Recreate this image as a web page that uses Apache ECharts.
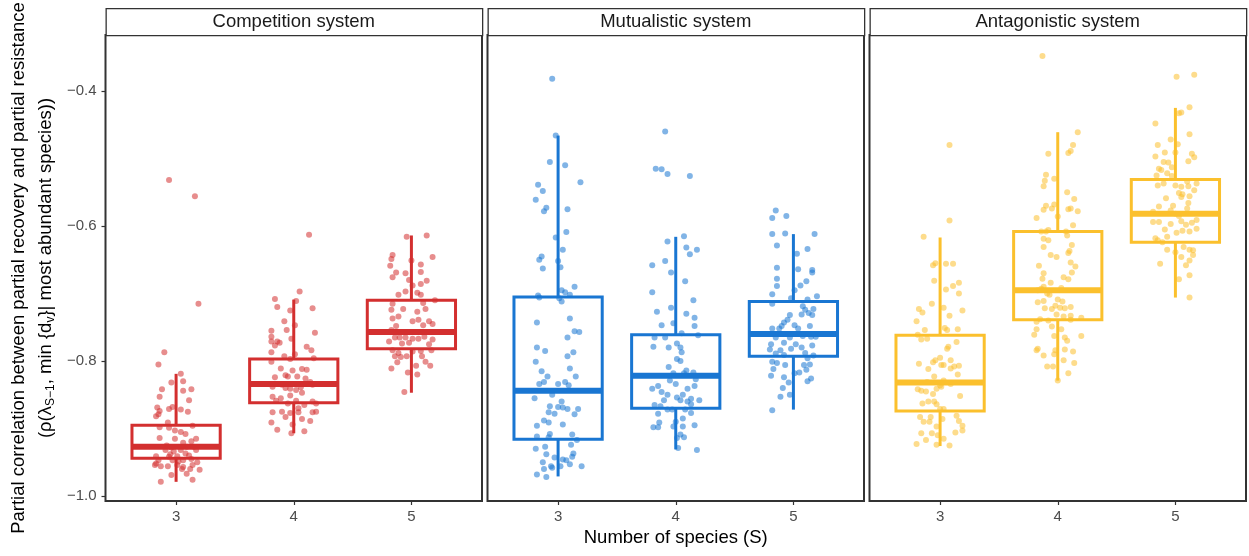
<!DOCTYPE html>
<html><head><meta charset="utf-8">
<script src="https://cdn.jsdelivr.net/npm/echarts@6/dist/echarts.min.js"></script>
<style>html,body{margin:0;padding:0;background:#fff}#c{width:1249px;height:556px}</style>
</head><body><div id="c"></div><script>
// ---------- data ----------
const systems = ['Competition system', 'Mutualistic system', 'Antagonistic system'];
const speciesCounts = [3, 4, 5];
const yTickValues = [-1.0, -0.8, -0.6, -0.4];
const xTitle = 'Number of species (S)';
const yTitle1 = 'Partial correlation between partial recovery and partial resistance';

// box statistics per S: [lower whisker, Q1, median, Q3, upper whisker]
const compBox = [[-0.979, -0.944, -0.927, -0.895, -0.819], [-0.907, -0.862, -0.834, -0.797, -0.709], [-0.847, -0.782, -0.757, -0.710, -0.614]];
const mutBox  = [[-0.971, -0.916, -0.844, -0.705, -0.466], [-0.931, -0.870, -0.822, -0.761, -0.616], [-0.872, -0.793, -0.760, -0.712, -0.612]];
const antBox  = [[-0.926, -0.874, -0.832, -0.762, -0.617], [-0.829, -0.739, -0.695, -0.608, -0.461], [-0.706, -0.624, -0.582, -0.531, -0.425]];

// jittered observations: [horizontal jitter (species units), value]
const compS3 = [[0.04,-0.819],[0.06,-0.830],[-0.04,-0.832],[-0.12,-0.842],[0.06,-0.844],[0.13,-0.842],[-0.14,-0.853],[0.11,-0.858],[-0.16,-0.869],[-0.14,-0.874],[-0.17,-0.882],[-0.06,-0.871],[-0.03,-0.868],[0.04,-0.872],[0.10,-0.875],[-0.15,-0.879],[-0.07,-0.891],[-0.14,-0.898],[-0.06,-0.899],[0.14,-0.896],[-0.01,-0.903],[0.04,-0.905],[0.08,-0.908],[-0.14,-0.914],[-0.01,-0.915],[0.17,-0.915],[0.13,-0.919],[0.06,-0.921],[-0.08,-0.925],[-0.04,-0.928],[0.09,-0.927],[0.15,-0.927],[-0.17,-0.941],[-0.05,-0.938],[0.01,-0.941],[0.11,-0.940],[0.17,-0.932],[-0.15,-0.947],[-0.03,-0.947],[0.06,-0.947],[0.13,-0.945],[-0.18,-0.954],[-0.13,-0.956],[-0.07,-0.956],[0.01,-0.954],[0.06,-0.957],[0.14,-0.954],[0.18,-0.950],[0.05,-0.960],[0.12,-0.960],[0.20,-0.961],[-0.04,-0.969],[0.09,-0.967],[-0.13,-0.979],[0.14,-0.976],[-0.02,-0.934],[-0.09,-0.932],[0.04,-0.932],[0.08,-0.937],[-0.06,-0.942],[-0.17,-0.952],[0.02,-0.949],[-0.06,-0.532],[0.16,-0.556],[0.19,-0.715],[-0.10,-0.787],[-0.15,-0.805]];
const compS4 = [[0.13,-0.613],[0.05,-0.697],[0.02,-0.711],[-0.16,-0.708],[-0.14,-0.720],[0.16,-0.722],[-0.03,-0.725],[-0.08,-0.741],[0.01,-0.747],[-0.06,-0.754],[0.18,-0.758],[-0.19,-0.755],[-0.19,-0.764],[-0.02,-0.767],[-0.19,-0.771],[-0.14,-0.771],[-0.12,-0.773],[-0.16,-0.777],[0.11,-0.779],[0.15,-0.784],[-0.19,-0.787],[-0.08,-0.793],[0.01,-0.790],[0.17,-0.796],[-0.03,-0.797],[-0.19,-0.801],[-0.11,-0.811],[-0.01,-0.814],[0.07,-0.812],[0.11,-0.813],[-0.07,-0.821],[-0.05,-0.823],[0.03,-0.823],[-0.16,-0.824],[0.10,-0.826],[0.14,-0.831],[-0.10,-0.835],[-0.18,-0.838],[-0.03,-0.841],[0.06,-0.839],[0.16,-0.835],[-0.07,-0.840],[0.02,-0.843],[-0.18,-0.853],[-0.03,-0.851],[0.07,-0.847],[-0.11,-0.855],[0.16,-0.860],[-0.15,-0.859],[-0.05,-0.863],[0.02,-0.859],[0.09,-0.865],[0.19,-0.863],[-0.10,-0.875],[-0.18,-0.876],[-0.03,-0.877],[0.04,-0.876],[0.16,-0.876],[0.19,-0.875],[-0.07,-0.883],[0.07,-0.886],[0.14,-0.889],[-0.19,-0.891],[-0.01,-0.894],[-0.14,-0.902],[0.09,-0.904],[-0.02,-0.907],[0.04,-0.870]];
const compS5 = [[-0.04,-0.616],[0.13,-0.614],[-0.16,-0.643],[-0.17,-0.649],[0.18,-0.646],[0.00,-0.651],[-0.18,-0.659],[0.08,-0.657],[-0.13,-0.669],[-0.05,-0.670],[0.08,-0.668],[-0.16,-0.676],[-0.02,-0.680],[0.13,-0.681],[0.08,-0.686],[0.01,-0.688],[-0.05,-0.697],[0.05,-0.699],[-0.11,-0.702],[0.08,-0.702],[0.20,-0.710],[-0.16,-0.715],[0.10,-0.714],[-0.17,-0.724],[-0.07,-0.723],[0.12,-0.723],[0.05,-0.727],[-0.16,-0.737],[-0.11,-0.734],[0.01,-0.741],[0.06,-0.739],[0.15,-0.741],[0.18,-0.745],[0.10,-0.747],[-0.13,-0.748],[-0.17,-0.754],[-0.14,-0.765],[-0.10,-0.765],[-0.05,-0.765],[0.01,-0.767],[0.06,-0.767],[0.11,-0.764],[0.18,-0.768],[-0.19,-0.771],[-0.08,-0.774],[-0.02,-0.773],[0.15,-0.775],[-0.16,-0.784],[-0.11,-0.788],[0.01,-0.786],[0.08,-0.785],[0.17,-0.784],[-0.14,-0.793],[-0.09,-0.794],[-0.04,-0.793],[0.09,-0.793],[0.12,-0.801],[-0.12,-0.802],[0.04,-0.807],[0.16,-0.807],[-0.17,-0.811],[-0.03,-0.817],[0.05,-0.820],[-0.06,-0.846]];
const mutS3 = [[-0.05,-0.382],[-0.02,-0.466],[-0.07,-0.505],[0.06,-0.510],[-0.17,-0.539],[-0.13,-0.548],[0.19,-0.535],[-0.19,-0.561],[-0.10,-0.573],[-0.12,-0.578],[0.08,-0.575],[0.07,-0.609],[-0.02,-0.617],[0.04,-0.635],[-0.14,-0.645],[-0.16,-0.650],[0.00,-0.652],[0.02,-0.661],[-0.13,-0.663],[0.14,-0.690],[0.03,-0.695],[0.06,-0.698],[0.10,-0.702],[-0.17,-0.703],[-0.16,-0.706],[0.01,-0.707],[0.03,-0.712],[0.10,-0.737],[-0.18,-0.743],[0.14,-0.756],[0.18,-0.757],[0.08,-0.765],[-0.18,-0.780],[-0.11,-0.785],[0.13,-0.787],[0.08,-0.793],[-0.19,-0.801],[0.10,-0.811],[-0.14,-0.815],[0.15,-0.823],[-0.09,-0.823],[-0.16,-0.834],[-0.12,-0.831],[0.00,-0.834],[0.06,-0.831],[0.09,-0.836],[-0.05,-0.850],[-0.20,-0.855],[0.03,-0.860],[-0.07,-0.867],[0.00,-0.868],[0.04,-0.869],[0.08,-0.871],[0.17,-0.871],[-0.08,-0.876],[-0.03,-0.878],[0.14,-0.879],[-0.12,-0.888],[-0.08,-0.891],[0.04,-0.894],[-0.18,-0.896],[-0.07,-0.908],[-0.18,-0.912],[0.12,-0.909],[-0.08,-0.913],[0.16,-0.917],[0.11,-0.924],[-0.19,-0.930],[-0.11,-0.927],[0.13,-0.937],[-0.10,-0.938],[-0.03,-0.943],[0.04,-0.946],[0.07,-0.947],[0.12,-0.942],[-0.13,-0.950],[-0.06,-0.956],[0.02,-0.956],[0.10,-0.953],[0.20,-0.956],[-0.12,-0.960],[-0.05,-0.958],[-0.18,-0.968],[-0.10,-0.972]];
const mutS4 = [[-0.09,-0.460],[-0.17,-0.515],[-0.12,-0.516],[-0.07,-0.523],[0.12,-0.526],[0.07,-0.615],[-0.07,-0.623],[0.09,-0.632],[0.18,-0.635],[0.12,-0.642],[-0.20,-0.658],[-0.09,-0.652],[-0.04,-0.669],[0.08,-0.682],[-0.20,-0.698],[0.15,-0.710],[-0.16,-0.727],[-0.04,-0.721],[0.09,-0.730],[0.16,-0.736],[-0.12,-0.747],[-0.02,-0.744],[0.16,-0.748],[0.05,-0.759],[-0.18,-0.765],[-0.09,-0.765],[0.19,-0.762],[-0.19,-0.779],[-0.06,-0.780],[0.01,-0.774],[0.04,-0.780],[0.05,-0.787],[0.01,-0.797],[0.04,-0.800],[-0.06,-0.809],[-0.02,-0.818],[0.09,-0.814],[0.15,-0.817],[0.07,-0.818],[0.17,-0.827],[-0.05,-0.829],[0.00,-0.834],[0.16,-0.837],[-0.20,-0.841],[-0.15,-0.837],[-0.12,-0.846],[0.10,-0.841],[-0.07,-0.850],[0.06,-0.850],[-0.10,-0.858],[0.01,-0.854],[0.13,-0.856],[0.04,-0.858],[0.20,-0.858],[0.10,-0.860],[-0.18,-0.865],[-0.13,-0.867],[0.13,-0.864],[-0.07,-0.872],[0.08,-0.872],[0.13,-0.877],[-0.15,-0.878],[-0.03,-0.872],[0.06,-0.885],[0.00,-0.890],[-0.14,-0.891],[-0.02,-0.897],[-0.19,-0.898],[0.06,-0.897],[0.16,-0.895],[-0.15,-0.898],[0.04,-0.909],[0.07,-0.913],[0.01,-0.914],[0.02,-0.929],[0.18,-0.932]];
const mutS5 = [[-0.15,-0.577],[-0.18,-0.588],[-0.06,-0.585],[-0.18,-0.612],[-0.07,-0.611],[0.18,-0.612],[-0.14,-0.629],[0.03,-0.641],[0.12,-0.634],[-0.14,-0.662],[0.04,-0.664],[0.16,-0.665],[0.16,-0.669],[-0.14,-0.678],[0.11,-0.682],[-0.14,-0.689],[0.06,-0.688],[-0.18,-0.701],[-0.02,-0.707],[0.01,-0.695],[0.12,-0.709],[0.20,-0.704],[-0.18,-0.715],[0.08,-0.719],[0.17,-0.723],[0.10,-0.724],[0.07,-0.731],[0.13,-0.729],[-0.03,-0.732],[0.16,-0.732],[-0.05,-0.739],[-0.08,-0.743],[0.01,-0.747],[-0.10,-0.748],[0.14,-0.748],[-0.18,-0.752],[-0.12,-0.752],[0.04,-0.752],[-0.08,-0.760],[0.08,-0.763],[0.15,-0.764],[-0.15,-0.765],[-0.03,-0.765],[0.19,-0.764],[-0.08,-0.773],[-0.19,-0.775],[0.02,-0.775],[0.16,-0.777],[-0.20,-0.783],[-0.02,-0.782],[0.07,-0.780],[-0.11,-0.784],[-0.15,-0.789],[0.10,-0.788],[0.17,-0.792],[-0.08,-0.791],[0.12,-0.796],[-0.18,-0.801],[-0.14,-0.803],[-0.07,-0.806],[0.09,-0.806],[0.14,-0.805],[-0.17,-0.812],[0.11,-0.813],[-0.19,-0.822],[0.05,-0.817],[-0.08,-0.824],[0.01,-0.818],[0.15,-0.826],[-0.04,-0.832],[0.12,-0.830],[-0.09,-0.840],[-0.03,-0.850],[-0.11,-0.853],[-0.18,-0.873]];
const antS3 = [[0.08,-0.480],[0.08,-0.592],[-0.14,-0.616],[-0.06,-0.658],[-0.04,-0.655],[0.05,-0.656],[0.11,-0.656],[-0.05,-0.681],[0.16,-0.684],[0.11,-0.689],[0.05,-0.694],[0.16,-0.700],[-0.07,-0.715],[0.03,-0.721],[-0.18,-0.723],[-0.15,-0.728],[0.19,-0.725],[0.08,-0.733],[-0.20,-0.741],[-0.13,-0.754],[0.04,-0.751],[0.15,-0.753],[0.06,-0.754],[-0.19,-0.761],[-0.16,-0.768],[-0.11,-0.767],[0.14,-0.772],[0.07,-0.779],[0.06,-0.782],[0.00,-0.795],[-0.04,-0.799],[-0.06,-0.802],[0.09,-0.799],[-0.18,-0.804],[0.01,-0.806],[-0.10,-0.812],[0.03,-0.806],[0.12,-0.808],[0.16,-0.807],[0.09,-0.811],[0.15,-0.820],[-0.05,-0.823],[0.03,-0.829],[-0.11,-0.831],[0.09,-0.834],[0.00,-0.836],[-0.19,-0.842],[-0.16,-0.844],[-0.12,-0.845],[-0.03,-0.841],[-0.06,-0.849],[0.01,-0.838],[0.17,-0.852],[-0.10,-0.860],[-0.15,-0.863],[-0.05,-0.860],[-0.03,-0.864],[0.00,-0.871],[0.03,-0.871],[-0.17,-0.883],[-0.08,-0.883],[0.02,-0.886],[0.14,-0.881],[-0.14,-0.890],[-0.09,-0.890],[0.16,-0.889],[-0.03,-0.897],[0.19,-0.896],[0.19,-0.903],[0.13,-0.906],[-0.16,-0.907],[-0.07,-0.907],[-0.02,-0.910],[0.03,-0.915],[-0.12,-0.917],[-0.20,-0.923],[-0.03,-0.924],[0.08,-0.925]];
const antS4 = [[-0.13,-0.348],[0.17,-0.461],[0.13,-0.480],[0.11,-0.489],[0.09,-0.492],[-0.08,-0.493],[-0.10,-0.524],[-0.03,-0.530],[-0.11,-0.533],[-0.12,-0.541],[0.08,-0.550],[0.14,-0.560],[-0.10,-0.570],[-0.03,-0.568],[-0.05,-0.574],[-0.12,-0.576],[0.09,-0.575],[0.11,-0.574],[0.17,-0.578],[-0.18,-0.588],[0.00,-0.586],[0.13,-0.599],[-0.14,-0.608],[-0.10,-0.608],[-0.08,-0.606],[0.07,-0.608],[0.08,-0.614],[-0.12,-0.619],[-0.08,-0.621],[-0.12,-0.631],[0.12,-0.628],[0.10,-0.637],[0.09,-0.640],[-0.06,-0.643],[-0.01,-0.646],[0.11,-0.654],[-0.16,-0.659],[0.15,-0.660],[-0.12,-0.670],[0.12,-0.669],[-0.13,-0.678],[0.05,-0.676],[0.09,-0.679],[-0.06,-0.684],[-0.14,-0.693],[-0.12,-0.690],[-0.17,-0.695],[0.03,-0.692],[-0.07,-0.702],[-0.09,-0.700],[-0.17,-0.713],[-0.12,-0.711],[0.00,-0.709],[0.04,-0.712],[-0.02,-0.718],[-0.11,-0.722],[-0.05,-0.723],[0.02,-0.721],[0.06,-0.722],[0.11,-0.720],[-0.01,-0.731],[0.05,-0.734],[0.11,-0.733],[-0.15,-0.738],[-0.18,-0.742],[-0.08,-0.740],[0.20,-0.736],[0.11,-0.739],[-0.05,-0.749],[0.03,-0.753],[-0.18,-0.753],[-0.20,-0.761],[-0.03,-0.763],[0.06,-0.765],[0.20,-0.763],[0.08,-0.770],[-0.18,-0.784],[-0.17,-0.782],[-0.02,-0.784],[0.06,-0.783],[0.13,-0.786],[-0.03,-0.790],[-0.12,-0.792],[0.05,-0.799],[0.14,-0.803],[-0.09,-0.808],[-0.04,-0.808],[0.09,-0.818],[0.00,-0.829]];
const antS5 = [[0.01,-0.379],[0.16,-0.376],[0.05,-0.432],[0.12,-0.424],[0.03,-0.433],[-0.17,-0.448],[-0.04,-0.472],[0.12,-0.464],[0.02,-0.479],[-0.15,-0.480],[-0.09,-0.491],[0.14,-0.493],[-0.17,-0.497],[0.16,-0.498],[0.00,-0.491],[-0.10,-0.505],[-0.06,-0.506],[0.11,-0.504],[-0.03,-0.513],[-0.14,-0.515],[-0.12,-0.517],[-0.07,-0.522],[-0.16,-0.525],[-0.03,-0.526],[0.10,-0.534],[-0.15,-0.540],[-0.10,-0.537],[0.00,-0.540],[0.05,-0.542],[0.11,-0.541],[0.18,-0.537],[0.16,-0.547],[0.03,-0.551],[0.06,-0.553],[0.12,-0.556],[-0.08,-0.559],[0.05,-0.557],[0.11,-0.566],[-0.02,-0.570],[-0.14,-0.571],[0.10,-0.574],[-0.19,-0.579],[-0.04,-0.577],[0.03,-0.585],[0.00,-0.582],[-0.19,-0.594],[-0.14,-0.594],[-0.04,-0.597],[0.05,-0.593],[0.09,-0.598],[0.14,-0.595],[0.18,-0.591],[-0.09,-0.605],[0.01,-0.610],[0.06,-0.607],[0.12,-0.608],[0.18,-0.604],[-0.07,-0.616],[-0.17,-0.618],[-0.15,-0.621],[-0.11,-0.624],[0.07,-0.631],[0.12,-0.635],[0.15,-0.636],[-0.07,-0.635],[0.00,-0.639],[0.05,-0.646],[0.15,-0.643],[0.12,-0.651],[-0.13,-0.656],[0.09,-0.658],[0.12,-0.673],[0.03,-0.679],[0.12,-0.706]];

const systemColors = ['#D32F2F', '#1976D2', '#FBC02D'];
const boxData = [compBox, mutBox, antBox];
const pointData = [[compS3, compS4, compS5], [mutS3, mutS4, mutS5], [antS3, antS4, antS5]];

// ---------- layout ----------
const FONT = '"Liberation Sans", Arial, sans-serif';
const gridLefts = [105.5, 487.5, 869.5];
const gridW = 376.5;
const gridTop = 35, gridBottom = 55;
const stripTop = 8;
const Y_MIN = -1.0074, Y_MAX = -0.317;

const grids = [], xAxes = [], yAxes = [], series = [], graphics = [];
const fmtY = v => v.toFixed(1).replace('-', '\u2212');

systems.forEach((name, i) => {
  grids.push({left: gridLefts[i], top: gridTop, width: gridW, bottom: gridBottom,
    show: true, borderColor: '#333333', borderWidth: 2, backgroundColor: '#ffffff', containLabel: false});
  xAxes.push({type: 'value', gridIndex: i, min: 2.4, max: 5.6,
    axisLine: {show: false}, splitLine: {show: false},
    axisTick: {show: true, length: 4, lineStyle: {color: '#333333', width: 1.2}, customValues: speciesCounts},
    axisLabel: {show: true, margin: 8, color: '#4D4D4D', fontSize: 15, fontFamily: FONT, customValues: speciesCounts,
      formatter: v => String(Math.round(v))}});
  yAxes.push({type: 'value', gridIndex: i, min: Y_MIN, max: Y_MAX,
    axisLine: {show: false}, splitLine: {show: false},
    axisTick: {show: i === 0, length: 4, lineStyle: {color: '#333333', width: 1.2}, customValues: yTickValues},
    axisLabel: {show: i === 0, margin: 9, color: '#4D4D4D', fontSize: 15, fontFamily: FONT, customValues: yTickValues,
      formatter: fmtY}});

  const pts = [];
  pointData[i].forEach((arr, k) => arr.forEach(p => pts.push([speciesCounts[k] + p[0], p[1]])));
  series.push({type: 'scatter', xAxisIndex: i, yAxisIndex: i, data: pts, symbol: 'circle', symbolSize: 6,
    itemStyle: {color: systemColors[i], opacity: 0.55}, silent: true, z: 2, animation: false});

  const color = systemColors[i];
  series.push({type: 'custom', xAxisIndex: i, yAxisIndex: i, z: 3, animation: false, silent: true,
    data: boxData[i].map((b, k) => [speciesCounts[k]].concat(b)),
    renderItem: (params, api) => {
      const x = api.value(0), lo = api.value(1), q1 = api.value(2), med = api.value(3), q3 = api.value(4), hi = api.value(5);
      const hw = 0.375;
      const tl = api.coord([x - hw, q3]), br = api.coord([x + hw, q1]);
      const ml = api.coord([x - hw, med]), mr = api.coord([x + hw, med]);
      const ph = api.coord([x, hi]), p3 = api.coord([x, q3]), p1 = api.coord([x, q1]), pl = api.coord([x, lo]);
      return {type: 'group', children: [
        {type: 'line', shape: {x1: ph[0], y1: ph[1], x2: p3[0], y2: p3[1]}, style: {stroke: color, lineWidth: 3}},
        {type: 'line', shape: {x1: p1[0], y1: p1[1], x2: pl[0], y2: pl[1]}, style: {stroke: color, lineWidth: 3}},
        {type: 'rect', shape: {x: tl[0], y: tl[1], width: br[0] - tl[0], height: br[1] - tl[1]},
          style: {fill: 'rgba(0,0,0,0)', stroke: color, lineWidth: 3}},
        {type: 'line', shape: {x1: ml[0], y1: ml[1], x2: mr[0], y2: mr[1]}, style: {stroke: color, lineWidth: 6}}
      ]};
    }});

  graphics.push({type: 'rect', left: gridLefts[i], top: stripTop,
    shape: {x: 0, y: 0, width: gridW, height: gridTop - stripTop},
    style: {fill: '#ffffff', stroke: '#333333', lineWidth: 1.3}, z: 10});
  graphics.push({type: 'text', x: gridLefts[i] + gridW / 2, y: stripTop + (gridTop - stripTop) / 2 + 0.5, z: 11,
    style: {text: name, fill: '#1A1A1A', font: '18.5px ' + FONT, textAlign: 'center', textVerticalAlign: 'middle'}});
});

const plotMidX = (gridLefts[0] + gridLefts[2] + gridW) / 2;
const plotMidY = gridTop + (556 - gridTop - gridBottom) / 2;
graphics.push({type: 'text', x: plotMidX, y: 538, z: 11,
  style: {text: xTitle, fill: '#000000', font: '18.5px ' + FONT, textAlign: 'center', textVerticalAlign: 'middle'}});
graphics.push({type: 'text', x: 19, y: plotMidY, rotation: Math.PI / 2, z: 11,
  style: {text: yTitle1, fill: '#000000', font: '18.5px ' + FONT, textAlign: 'center', textVerticalAlign: 'middle'}});
graphics.push({type: 'text', x: 46, y: plotMidY, rotation: Math.PI / 2, z: 11,
  style: {text: '(\u03C1(\u03BB{sub|S\u22121}, min {d{sub|v}}| most abundant species))',
    fill: '#000000', fontSize: 18.5, fontFamily: FONT, align: 'center', verticalAlign: 'middle', lineHeight: 22,
    rich: {sub: {fontSize: 12, fontFamily: FONT, fill: '#000000', verticalAlign: 'bottom', lineHeight: 14}}}});

const chart = echarts.init(document.getElementById('c'), null, {renderer: 'canvas'});
chart.setOption({animation: false, backgroundColor: '#ffffff', grid: grids, xAxis: xAxes, yAxis: yAxes, series: series, graphic: graphics});
</script></body></html>
